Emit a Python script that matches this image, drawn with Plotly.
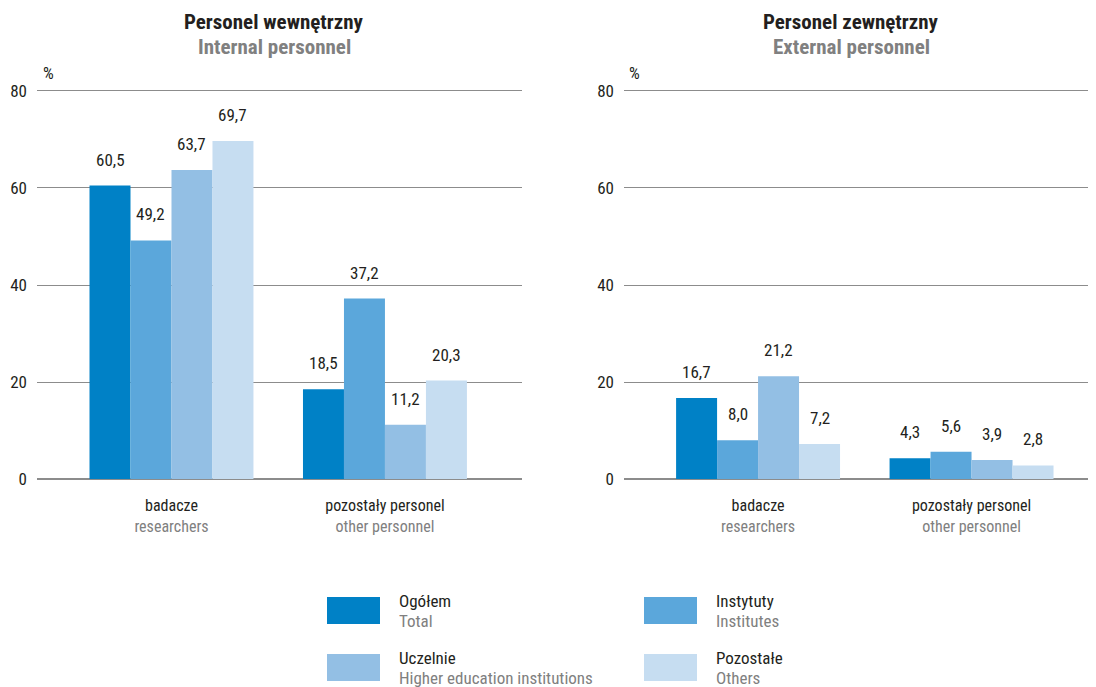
import plotly.graph_objects as go

categories_pl = ["badacze", "pozostały personel"]
categories_en = ["researchers", "other personnel"]
series_pl = ["Ogółem", "Instytuty", "Uczelnie", "Pozostałe"]
series_en = ["Total", "Institutes", "Higher education institutions", "Others"]
colors = ["#0081c6", "#5ba7db", "#93bfe4", "#c6ddf1"]

internal_total = [60.5, 18.5]
internal_institutes = [49.2, 37.2]
internal_higher_ed = [63.7, 11.2]
internal_others = [69.7, 20.3]

external_total = [16.7, 4.3]
external_institutes = [8.0, 5.6]
external_higher_ed = [21.2, 3.9]
external_others = [7.2, 2.8]

y_ticks = [0, 20, 40, 60, 80]

internal = [internal_total, internal_institutes, internal_higher_ed, internal_others]
external = [external_total, external_institutes, external_higher_ed, external_others]

FONT = "Liberation Sans Narrow, Roboto Condensed, Arial Narrow, Liberation Sans, sans-serif"
OFF = 8                      # page body margin offset
W, H = 1096 - OFF, 687 - OFF  # figure size


def px(x):
    return (x - OFF) / W


def py(y):
    return 1 - (y - OFF) / H


fig = go.Figure()
xpos = [0, 1]
n = len(series_pl)
bargap = 0.232
bw = (1 - bargap) / n

annotations = []
for panel, (data, xa, ya) in enumerate([(internal, "x", "y"), (external, "x2", "y2")]):
    for i, vals in enumerate(data):
        fig.add_trace(go.Bar(
            x=xpos, y=vals, name=series_pl[i], marker_color=colors[i],
            marker_line_width=0, xaxis=xa, yaxis=ya, showlegend=False,
            hoverinfo="skip",
        ))
        for j, v in enumerate(vals):
            xc = xpos[j] - (1 - bargap) / 2 + bw * (i + 0.5)
            annotations.append(dict(
                x=xc, y=v, xref=xa, yref=ya, text=f"{v:.1f}".replace(".", ","),
                showarrow=False, yanchor="bottom", yshift=14,
                font=dict(size=17, color="#231f20", family=FONT),
            ))

ticktext = [f"{pl}<br><span style='color:#808080'>{en}</span>"
            for pl, en in zip(categories_pl, categories_en)]

# y range slightly above 80 so the top gridline is drawn
ytop = 80.3
px_per_unit = (479 - 91) / 80
top_px = 479 - ytop * px_per_unit
ydom = [py(479), py(top_px)]
axis_common_y = dict(
    range=[0, ytop], tickvals=y_ticks, showgrid=True, gridcolor="#8c8c8c", gridwidth=1,
    zeroline=True, zerolinecolor="#8c8c8c", zerolinewidth=1.5, showline=False,
    tickfont=dict(size=17, color="#231f20", family=FONT), ticklabelstandoff=9,
    domain=ydom, fixedrange=True, automargin=False, ticks="",
)
axis_common_x = dict(
    tickvals=xpos, ticktext=ticktext, showgrid=False, zeroline=False, showline=False,
    tickfont=dict(size=16, color="#231f20", family=FONT), ticklabelstandoff=15,
    fixedrange=True, automargin=False, ticks="",
)

fig.update_layout(
    template="none",
    width=W, height=H, margin=dict(l=0, r=0, t=0, b=0, pad=0, autoexpand=False),
    paper_bgcolor="white", plot_bgcolor="white",
    barmode="group", bargap=bargap, bargroupgap=0,
    showlegend=False,
    xaxis=dict(axis_common_x, domain=[px(37), px(522)], range=[-0.63, 1.642], anchor="y"),
    yaxis=dict(axis_common_y, anchor="x"),
    xaxis2=dict(axis_common_x, domain=[px(624), 1.0], range=[-0.628, 1.583], anchor="y2"),
    yaxis2=dict(axis_common_y, anchor="x2"),
)

# titles
titles = [("Personel wewnętrzny", "Internal personnel", 274),
          ("Personel zewnętrzny", "External personnel", 851)]
for pl, en, xc in titles:
    annotations.append(dict(x=px(xc), y=py(22), xref="paper", yref="paper",
                            text=f"<b>{pl}</b>", showarrow=False, xanchor="center", yanchor="middle",
                            font=dict(size=21, color="#231f20", family=FONT)))
    annotations.append(dict(x=px(xc), y=py(47), xref="paper", yref="paper",
                            text=f"<b>{en}</b>", showarrow=False, xanchor="center", yanchor="middle",
                            font=dict(size=21, color="#808080", family=FONT)))
for xp in [41, 627]:
    annotations.append(dict(x=px(xp), y=py(73), xref="paper", yref="paper",
                            text="%", showarrow=False, xanchor="left", yanchor="middle",
                            font=dict(size=17, color="#231f20", family=FONT)))

# legend
shapes = []
legend_pos = [(327, 597), (644, 597), (327, 654), (644, 654)]
for i, (lx, ly) in enumerate(legend_pos):
    shapes.append(dict(type="rect", xref="paper", yref="paper",
                       x0=px(lx), x1=px(lx + 53), y0=py(ly + 27), y1=py(ly),
                       fillcolor=colors[i], line_width=0))
    annotations.append(dict(x=px(lx + 70), y=py(ly + 4), xref="paper", yref="paper",
                            text=series_pl[i], showarrow=False, xanchor="left", yanchor="middle",
                            font=dict(size=17, color="#231f20", family=FONT)))
    annotations.append(dict(x=px(lx + 70), y=py(ly + 24), xref="paper", yref="paper",
                            text=series_en[i], showarrow=False, xanchor="left", yanchor="middle",
                            font=dict(size=17, color="#808080", family=FONT)))

fig.update_layout(annotations=annotations, shapes=shapes)
fig.write_html("out.html")
